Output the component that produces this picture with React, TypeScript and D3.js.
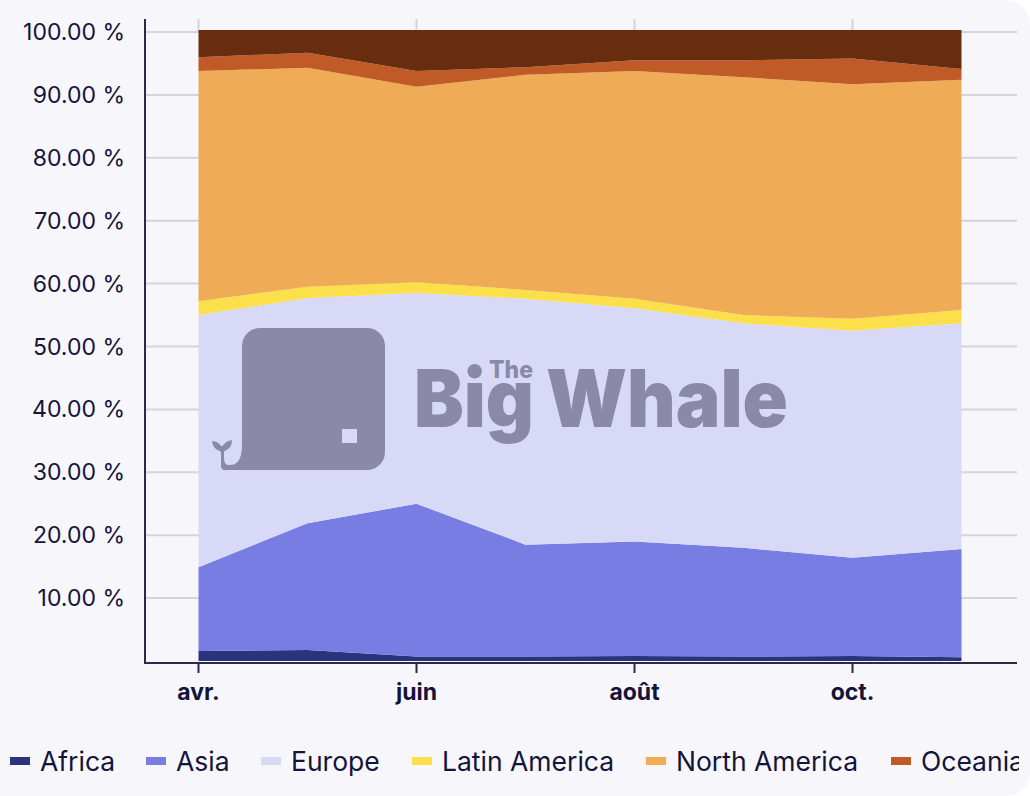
import * as d3 from 'd3';

const months = ['avr.', 'mai', 'juin', 'juil.', 'août', 'sept.', 'oct.', 'nov.'];
const shownMonths = ['avr.', 'juin', 'août', 'oct.'];
const yTicks = [10, 20, 30, 40, 50, 60, 70, 80, 90, 100];

const africa = [1.6, 1.75, 0.7, 0.7, 0.8, 0.7, 0.8, 0.6];
const asia = [13.3, 20.15, 24.3, 17.8, 18.2, 17.3, 15.6, 17.2];
const europe = [40.1, 35.8, 33.5, 39.1, 37.1, 35.7, 36.1, 35.9];
const latinAmerica = [2.2, 1.8, 1.7, 1.4, 1.5, 1.3, 1.9, 2.1];
const northAmerica = [36.6, 34.8, 31.1, 34.2, 36.2, 37.8, 37.3, 36.6];
const oceania = [2.2, 2.4, 2.5, 1.2, 1.7, 2.7, 4.1, 1.7];
const remainder = [4.3, 3.6, 6.5, 5.9, 4.8, 4.8, 4.5, 6.2];

const seriesNames = ['Africa', 'Asia', 'Europe', 'Latin America', 'North America', 'Oceania', 'remainder'];
const seriesValues = [africa, asia, europe, latinAmerica, northAmerica, oceania, remainder];
const seriesColors = ['#2c337c', '#777de2', '#d8d9f7', '#fbdf4b', '#f0ab56', '#c05a26', '#682d0e'];
const legendNames = ['Africa', 'Asia', 'Europe', 'Latin America', 'North America', 'Oceania'];
const legendX = [10, 146, 261, 412, 646, 891];

const ink = '#14143a';
const font = 'Inter, sans-serif';
const logoColor = '#8a89a8';

export default function App() {
  const x = d3.scalePoint<string>().domain(months).range([198.5, 961.5]);
  const y = d3.scaleLinear().domain([0, 100]).range([661, 32]);

  const rows = months.map((m, i) => {
    const row: Record<string, number | string> = { month: m };
    seriesNames.forEach((name, s) => { row[name] = seriesValues[s][i]; });
    return row;
  });
  const stacked = d3.stack<any>().keys(seriesNames)(rows);
  const area = d3.area<any>()
    .x(d => x(d.data.month)!)
    .y0(d => y(d[0]))
    .y1(d => y(d[1]));

  return (
    <svg width={1030} height={796} style={{ position: 'absolute', left: 0, top: 0, fontFamily: font }}>
      <defs>
        <clipPath id="legend-clip"><rect x={0} y={740} width={1019} height={56} /></clipPath>
      </defs>
      <rect width={1030} height={796} fill="#ffffff" />
      <path d="M0 0H1006a24 24 0 0 1 24 24V772a24 24 0 0 1-24 24H0Z" fill="#f7f7fb" />

      {yTicks.map(t => (
        <g key={t}>
          <line x1={145} x2={1017} y1={y(t)} y2={y(t)} stroke="#d3d3de" strokeWidth={2} />
          <text x={125} y={y(t)} dy="0.35em" textAnchor="end" fontSize={23} fill={ink}>
            {d3.format('.2f')(t)} %
          </text>
        </g>
      ))}
      {shownMonths.map(m => (
        <g key={m}>
          <line x1={x(m)} x2={x(m)} y1={19} y2={32} stroke="#d3d3de" strokeWidth={2} />
          <line x1={x(m)} x2={x(m)} y1={663} y2={673} stroke="#2a2a48" strokeWidth={2} />
          <text x={x(m)} y={700} textAnchor="middle" fontSize={23} fontWeight={700} fill={ink}>{m}</text>
        </g>
      ))}

      {stacked.map((s, i) => (
        <path key={s.key} d={area(s)!} fill={seriesColors[i]} />
      ))}

      <line x1={145} x2={145} y1={19} y2={664} stroke="#2a2a48" strokeWidth={2} />
      <line x1={144} x2={1017} y1={663} y2={663} stroke="#2a2a48" strokeWidth={2} />

      <g fill={logoColor}>
        <path d="M242 346a18 18 0 0 1 18-18H367a18 18 0 0 1 18 18V452a18 18 0 0 1-18 18H226a4 4 0 0 1-5-4V446h3V458q0 8 6 7q12 0 12-20Z" />
        <path d="M212 441q7 0 10 7q2-7 10-8q0 8-7 11q-5 2-5 0q-7-2-8-10Z" />
        <rect x={342} y={429} width={15} height={14} fill="#d8d9f7" />
        <text x={414} y={427} fontSize={80} fontWeight={900} textLength={120} lengthAdjust="spacingAndGlyphs">Big</text>
        <text x={489} y={378} fontSize={24} fontWeight={800} textLength={44} lengthAdjust="spacingAndGlyphs">The</text>
        <text x={546} y={427} fontSize={80} fontWeight={900} textLength={242} lengthAdjust="spacingAndGlyphs">Whale</text>
      </g>

      <g clipPath="url(#legend-clip)">
        {legendNames.map((name, i) => (
          <g key={name}>
            <rect x={legendX[i]} y={757} width={20} height={8} fill={seriesColors[i]} />
            <text x={legendX[i] + 30} y={771} fontSize={26.5} fill={ink}>{name}</text>
          </g>
        ))}
      </g>
    </svg>
  );
}
